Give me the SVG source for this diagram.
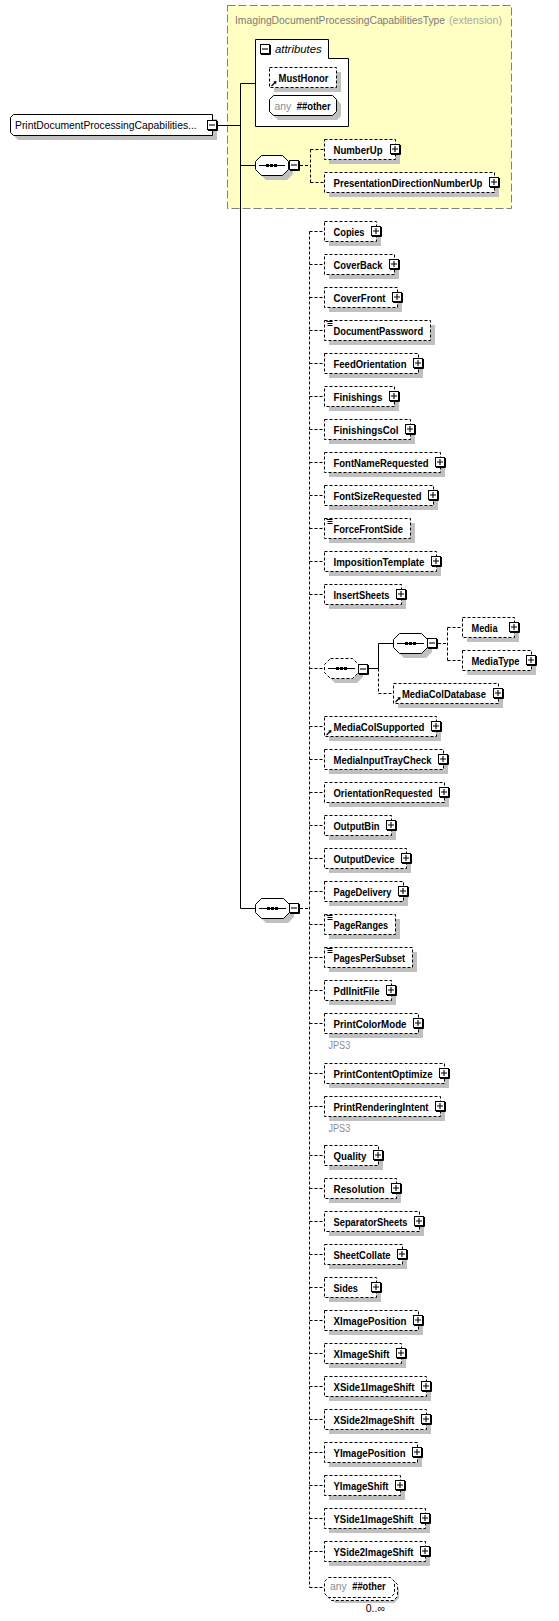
<svg xmlns="http://www.w3.org/2000/svg" xmlns:xlink="http://www.w3.org/1999/xlink" width="559" height="1621" viewBox="0 0 559 1621">
<style>
.sh{fill:#c0c0c0;stroke:none}
.el{fill:#fff;stroke:#000;stroke-width:1;stroke-dasharray:3,2}
.so{fill:#fff;stroke:#000;stroke-width:1}
.n{font-family:"Liberation Sans",Arial,sans-serif;font-size:10.5px;font-weight:bold;fill:#000}
.r{font-family:"Liberation Sans",Arial,sans-serif;font-size:10.5px;fill:#000}
.g{font-family:"Liberation Sans",Arial,sans-serif;font-size:10px;fill:#8c8c8c}
.c{fill:none;stroke:#000;stroke-width:1}
.d{fill:none;stroke:#000;stroke-width:1;stroke-dasharray:3,2}
</style>
<defs>
<g id="plus"><rect x="0.5" y="0.5" width="9" height="9" fill="#fff" stroke="#000"/><path d="M10.5,1 V10.5 H1" fill="none" stroke="#000"/><path d="M2,5 H8 M5,2 V8" fill="none" stroke="#000" stroke-width="1.1"/></g>
<g id="minus"><rect x="0.5" y="0.5" width="9" height="9" fill="#fff" stroke="#000"/><path d="M10.5,1 V10.5 H1" fill="none" stroke="#000"/><path d="M2,5 H8" fill="none" stroke="#000" stroke-width="1.1"/></g>
<g id="simple"><path d="M1.5,0 H7.5 M2.5,2 H7.5 M2.5,4 H7.5" fill="none" stroke="#000"/></g>
<g id="ref"><path d="M0,5 L3.5,1.5" fill="none" stroke="#000" stroke-width="1.2"/><polygon points="5,0 1.8,0.4 4.6,3.2" fill="#000"/></g>
</defs>

<g id="extension">
<rect x="227.5" y="5.5" width="284" height="203" fill="#ffffc4" stroke="#808080" stroke-dasharray="8,3"/>
<text class="g" x="235" y="24" font-size="10.5" fill="#808080" style="fill:#7a7a7a" textLength="210" lengthAdjust="spacingAndGlyphs">ImagingDocumentProcessingCapabilitiesType</text>
<text class="g" x="449" y="24" font-size="10.5" style="fill:#a8a8a8" textLength="53" lengthAdjust="spacingAndGlyphs">(extension)</text>
</g>

<g id="connectors">
<path class="c" d="M217,125.5 H240.5 M240.5,83.5 V908.5 M240.5,83.5 H255.5 M240.5,165.5 H255.5 M240.5,908.5 H255.5"/>
<path class="d" d="M300,165.5 H310.5 M310.5,149.5 V182.5 M310.5,149.5 H324.5 M310.5,182.5 H324.5"/>
<path class="d" d="M300,908.5 H309.5 M309.5,231.5 V1587.5 M309.5,231.5 H324.5 M309.5,264.5 H324.5 M309.5,297.5 H324.5 M309.5,330.5 H324.5 M309.5,363.5 H324.5 M309.5,396.5 H324.5 M309.5,429.5 H324.5 M309.5,462.5 H324.5 M309.5,495.5 H324.5 M309.5,528.5 H324.5 M309.5,561.5 H324.5 M309.5,594.5 H324.5 M309.5,668.5 H324.5 M309.5,726.5 H324.5 M309.5,759.5 H324.5 M309.5,792.5 H324.5 M309.5,825.5 H324.5 M309.5,858.5 H324.5 M309.5,891.5 H324.5 M309.5,924.5 H324.5 M309.5,957.5 H324.5 M309.5,990.5 H324.5 M309.5,1023.5 H324.5 M309.5,1073.5 H324.5 M309.5,1106.5 H324.5 M309.5,1155.5 H324.5 M309.5,1188.5 H324.5 M309.5,1221.5 H324.5 M309.5,1254.5 H324.5 M309.5,1287.5 H324.5 M309.5,1320.5 H324.5 M309.5,1353.5 H324.5 M309.5,1386.5 H324.5 M309.5,1419.5 H324.5 M309.5,1452.5 H324.5 M309.5,1485.5 H324.5 M309.5,1518.5 H324.5 M309.5,1551.5 H324.5 M309.5,1587.5 H324.5"/>
<path class="c" d="M369,668.5 H378.5 V643.5 H393.5"/>
<path class="d" d="M378.5,668.5 V693.5 H393.5"/>
<path class="d" d="M438,643.5 H447.5 M447.5,627.5 V660.5 M447.5,627.5 H462.5 M447.5,660.5 H462.5"/>
</g>

<g id="root">
<path class="sh" d="M18,119 H217 V140 H18 L15,137 V122 Z"/>
<path class="so" d="M13.5,114.5 H212.5 V135.5 H13.5 L10.5,132.5 V117.5 Z"/>
<text class="r" x="15" y="128.5" textLength="181.7" lengthAdjust="spacingAndGlyphs">PrintDocumentProcessingCapabilities...</text>
<use xlink:href="#minus" x="207" y="120"/>
</g>

<g id="attributes">
<path class="so" d="M255.5,39.5 H328.5 V58.5 H348.5 V126.5 H255.5 Z"/>
<use xlink:href="#minus" x="260" y="44"/>
<text class="r" x="275" y="52.5" font-style="italic" textLength="46.7" lengthAdjust="spacingAndGlyphs">attributes</text>
</g>

<g id="MustHonor">
<rect class="sh" x="274" y="72" width="67" height="20"/>
<rect class="el" x="269.5" y="67.5" width="67" height="20"/>
<use xlink:href="#ref" x="271.5" y="81"/>
<text class="n" x="278.5" y="82" textLength="50" lengthAdjust="spacingAndGlyphs">MustHonor</text>
</g>

<g id="attrAny">
<path class="sh" d="M278,100 H337 L341,104 V116 L337,120 H278 L274,116 V104 Z"/>
<path class="so" d="M273.5,95.5 H332.5 L336.5,99.5 V111.5 L332.5,115.5 H273.5 L269.5,111.5 V99.5 Z"/>
<text class="g" x="274.5" y="110" font-size="10.5" textLength="16.7" lengthAdjust="spacingAndGlyphs">any</text>
<text class="n" x="296.7" y="110" textLength="34" lengthAdjust="spacingAndGlyphs">##other</text>
</g>

<g id="seqTop">
<path class="sh" d="M266,160 H287 L293,166 V174 L287,180 H266 L260,174 V166 Z"/>
<path class="so" stroke-linejoin="round" d="M261.5,155.5 H282.5 L288.5,161.5 V169.5 L282.5,175.5 H261.5 L255.5,169.5 V161.5 Z"/>
<path class="c" d="M259,165.5 H285"/>
<rect x="266" y="164" width="3" height="3"/><rect x="270" y="164" width="3" height="3"/><rect x="274" y="164" width="3" height="3"/>
<use xlink:href="#minus" x="289" y="160"/>
</g>

<g id="NumberUp">
<rect class="sh" x="329" y="144" width="71" height="20"/>
<rect class="el" x="324.5" y="139.5" width="71" height="20"/>
<text class="n" x="333.5" y="154" textLength="49" lengthAdjust="spacingAndGlyphs">NumberUp</text>
<use xlink:href="#plus" x="390" y="144"/>
</g>

<g id="PresentationDirectionNumberUp">
<rect class="sh" x="329" y="177" width="170" height="20"/>
<rect class="el" x="324.5" y="172.5" width="170" height="20"/>
<text class="n" x="333.5" y="187" textLength="149" lengthAdjust="spacingAndGlyphs">PresentationDirectionNumberUp</text>
<use xlink:href="#plus" x="489" y="177"/>
</g>

<g id="seqMain">
<path class="sh" d="M266,903 H288 L294,909 V917 L288,923 H266 L260,917 V909 Z"/>
<path class="so" stroke-linejoin="round" d="M261.5,898.5 H283.5 L289.5,904.5 V912.5 L283.5,918.5 H261.5 L255.5,912.5 V904.5 Z"/>
<path class="c" d="M259,908.5 H286"/>
<rect x="267" y="907" width="3" height="3"/><rect x="271" y="907" width="3" height="3"/><rect x="275" y="907" width="3" height="3"/>
<use xlink:href="#minus" x="289" y="903"/>
</g>

<g id="Copies"><rect class="sh" x="329" y="226" width="52" height="20"/><rect class="el" x="324.5" y="221.5" width="52" height="20"/><text class="n" x="333.5" y="236" textLength="31" lengthAdjust="spacingAndGlyphs">Copies</text><use xlink:href="#plus" x="371" y="226"/></g>
<g id="CoverBack"><rect class="sh" x="329" y="259" width="70" height="20"/><rect class="el" x="324.5" y="254.5" width="70" height="20"/><text class="n" x="333.5" y="269" textLength="49" lengthAdjust="spacingAndGlyphs">CoverBack</text><use xlink:href="#plus" x="389" y="259"/></g>
<g id="CoverFront"><rect class="sh" x="329" y="292" width="73" height="20"/><rect class="el" x="324.5" y="287.5" width="73" height="20"/><text class="n" x="333.5" y="302" textLength="52" lengthAdjust="spacingAndGlyphs">CoverFront</text><use xlink:href="#plus" x="392" y="292"/></g>
<g id="DocumentPassword"><rect class="sh" x="329" y="325" width="106" height="20"/><rect class="el" x="324.5" y="320.5" width="106" height="20"/><use xlink:href="#simple" x="325" y="321.5"/><text class="n" x="333.5" y="335" textLength="89.6" lengthAdjust="spacingAndGlyphs">DocumentPassword</text></g>
<g id="FeedOrientation"><rect class="sh" x="329" y="358" width="94" height="20"/><rect class="el" x="324.5" y="353.5" width="94" height="20"/><text class="n" x="333.5" y="368" textLength="73" lengthAdjust="spacingAndGlyphs">FeedOrientation</text><use xlink:href="#plus" x="413" y="358"/></g>
<g id="Finishings"><rect class="sh" x="329" y="391" width="70" height="20"/><rect class="el" x="324.5" y="386.5" width="70" height="20"/><text class="n" x="333.5" y="401" textLength="49" lengthAdjust="spacingAndGlyphs">Finishings</text><use xlink:href="#plus" x="389" y="391"/></g>
<g id="FinishingsCol"><rect class="sh" x="329" y="424" width="86" height="20"/><rect class="el" x="324.5" y="419.5" width="86" height="20"/><text class="n" x="333.5" y="434" textLength="65" lengthAdjust="spacingAndGlyphs">FinishingsCol</text><use xlink:href="#plus" x="405" y="424"/></g>
<g id="FontNameRequested"><rect class="sh" x="329" y="457" width="116" height="20"/><rect class="el" x="324.5" y="452.5" width="116" height="20"/><text class="n" x="333.5" y="467" textLength="95" lengthAdjust="spacingAndGlyphs">FontNameRequested</text><use xlink:href="#plus" x="435" y="457"/></g>
<g id="FontSizeRequested"><rect class="sh" x="329" y="490" width="109" height="20"/><rect class="el" x="324.5" y="485.5" width="109" height="20"/><text class="n" x="333.5" y="500" textLength="88" lengthAdjust="spacingAndGlyphs">FontSizeRequested</text><use xlink:href="#plus" x="428" y="490"/></g>
<g id="ForceFrontSide"><rect class="sh" x="329" y="523" width="86" height="20"/><rect class="el" x="324.5" y="518.5" width="86" height="20"/><use xlink:href="#simple" x="325" y="519.5"/><text class="n" x="333.5" y="533" textLength="69.6" lengthAdjust="spacingAndGlyphs">ForceFrontSide</text></g>
<g id="ImpositionTemplate"><rect class="sh" x="329" y="556" width="112" height="20"/><rect class="el" x="324.5" y="551.5" width="112" height="20"/><text class="n" x="333.5" y="566" textLength="91" lengthAdjust="spacingAndGlyphs">ImpositionTemplate</text><use xlink:href="#plus" x="431" y="556"/></g>
<g id="InsertSheets"><rect class="sh" x="329" y="589" width="77" height="20"/><rect class="el" x="324.5" y="584.5" width="77" height="20"/><text class="n" x="333.5" y="599" textLength="56" lengthAdjust="spacingAndGlyphs">InsertSheets</text><use xlink:href="#plus" x="396" y="589"/></g>

<g id="seqMediaOuter">
<path class="sh" d="M335,663 H357 L363,669 V677 L357,683 H335 L329,677 V669 Z"/>
<path class="el" stroke-linejoin="round" d="M330.5,658.5 H352.5 L358.5,664.5 V672.5 L352.5,678.5 H330.5 L324.5,672.5 V664.5 Z"/>
<path class="c" d="M328,668.5 H355"/>
<rect x="336" y="667" width="3" height="3"/><rect x="340" y="667" width="3" height="3"/><rect x="344" y="667" width="3" height="3"/>
<use xlink:href="#minus" x="358" y="664"/>
</g>
<g id="seqMediaInner">
<path class="sh" d="M404,638 H426 L432,644 V652 L426,658 H404 L398,652 V644 Z"/>
<path class="so" stroke-linejoin="round" d="M399.5,633.5 H421.5 L427.5,639.5 V647.5 L421.5,653.5 H399.5 L393.5,647.5 V639.5 Z"/>
<path class="c" d="M397,643.5 H424"/>
<rect x="405" y="642" width="3" height="3"/><rect x="409" y="642" width="3" height="3"/><rect x="413" y="642" width="3" height="3"/>
<use xlink:href="#minus" x="427" y="638"/>
</g>
<g id="Media"><rect class="sh" x="467" y="622" width="52" height="20"/><rect class="el" x="462.5" y="617.5" width="52" height="20"/><text class="n" x="471.5" y="632" textLength="26" lengthAdjust="spacingAndGlyphs">Media</text><use xlink:href="#plus" x="509" y="622"/></g>
<g id="MediaType"><rect class="sh" x="467" y="655" width="69" height="20"/><rect class="el" x="462.5" y="650.5" width="69" height="20"/><text class="n" x="471.5" y="665" textLength="48" lengthAdjust="spacingAndGlyphs">MediaType</text><use xlink:href="#plus" x="526" y="655"/></g>
<g id="MediaColDatabase"><rect class="sh" x="398" y="688" width="105" height="20"/><rect class="el" x="393.5" y="683.5" width="105" height="20"/><use xlink:href="#ref" x="395.5" y="697"/><text class="n" x="402" y="698" textLength="84" lengthAdjust="spacingAndGlyphs">MediaColDatabase</text><use xlink:href="#plus" x="493" y="688"/></g>

<g id="MediaColSupported"><rect class="sh" x="329" y="721" width="112" height="20"/><rect class="el" x="324.5" y="716.5" width="112" height="20"/><use xlink:href="#ref" x="326.5" y="730"/><text class="n" x="333.5" y="731" textLength="91" lengthAdjust="spacingAndGlyphs">MediaColSupported</text><use xlink:href="#plus" x="431" y="721"/></g>
<g id="MediaInputTrayCheck"><rect class="sh" x="329" y="754" width="119" height="20"/><rect class="el" x="324.5" y="749.5" width="119" height="20"/><text class="n" x="333.5" y="764" textLength="98" lengthAdjust="spacingAndGlyphs">MediaInputTrayCheck</text><use xlink:href="#plus" x="438" y="754"/></g>
<g id="OrientationRequested"><rect class="sh" x="329" y="787" width="120" height="20"/><rect class="el" x="324.5" y="782.5" width="120" height="20"/><text class="n" x="333.5" y="797" textLength="99" lengthAdjust="spacingAndGlyphs">OrientationRequested</text><use xlink:href="#plus" x="439" y="787"/></g>
<g id="OutputBin"><rect class="sh" x="329" y="820" width="67" height="20"/><rect class="el" x="324.5" y="815.5" width="67" height="20"/><text class="n" x="333.5" y="830" textLength="46" lengthAdjust="spacingAndGlyphs">OutputBin</text><use xlink:href="#plus" x="386" y="820"/></g>
<g id="OutputDevice"><rect class="sh" x="329" y="853" width="82" height="20"/><rect class="el" x="324.5" y="848.5" width="82" height="20"/><text class="n" x="333.5" y="863" textLength="61" lengthAdjust="spacingAndGlyphs">OutputDevice</text><use xlink:href="#plus" x="401" y="853"/></g>
<g id="PageDelivery"><rect class="sh" x="329" y="886" width="79" height="20"/><rect class="el" x="324.5" y="881.5" width="79" height="20"/><text class="n" x="333.5" y="896" textLength="58" lengthAdjust="spacingAndGlyphs">PageDelivery</text><use xlink:href="#plus" x="398" y="886"/></g>
<g id="PageRanges"><rect class="sh" x="329" y="919" width="71" height="20"/><rect class="el" x="324.5" y="914.5" width="71" height="20"/><use xlink:href="#simple" x="325" y="915.5"/><text class="n" x="333.5" y="929" textLength="54.6" lengthAdjust="spacingAndGlyphs">PageRanges</text></g>
<g id="PagesPerSubset"><rect class="sh" x="329" y="952" width="88" height="20"/><rect class="el" x="324.5" y="947.5" width="88" height="20"/><use xlink:href="#simple" x="325" y="948.5"/><text class="n" x="333.5" y="962" textLength="71.6" lengthAdjust="spacingAndGlyphs">PagesPerSubset</text></g>
<g id="PdlInitFile"><rect class="sh" x="329" y="985" width="67" height="20"/><rect class="el" x="324.5" y="980.5" width="67" height="20"/><text class="n" x="333.5" y="995" textLength="46" lengthAdjust="spacingAndGlyphs">PdlInitFile</text><use xlink:href="#plus" x="386" y="985"/></g>
<g id="PrintColorMode"><rect class="sh" x="329" y="1018" width="94" height="20"/><rect class="el" x="324.5" y="1013.5" width="94" height="20"/><text class="n" x="333.5" y="1028" textLength="73" lengthAdjust="spacingAndGlyphs">PrintColorMode</text><use xlink:href="#plus" x="413" y="1018"/><text class="g" x="328.5" y="1048.5" font-size="9" textLength="21.7" lengthAdjust="spacingAndGlyphs">JPS3</text></g>
<g id="PrintContentOptimize"><rect class="sh" x="329" y="1068" width="120" height="20"/><rect class="el" x="324.5" y="1063.5" width="120" height="20"/><text class="n" x="333.5" y="1078" textLength="99" lengthAdjust="spacingAndGlyphs">PrintContentOptimize</text><use xlink:href="#plus" x="439" y="1068"/></g>
<g id="PrintRenderingIntent"><rect class="sh" x="329" y="1101" width="116" height="20"/><rect class="el" x="324.5" y="1096.5" width="116" height="20"/><text class="n" x="333.5" y="1111" textLength="95" lengthAdjust="spacingAndGlyphs">PrintRenderingIntent</text><use xlink:href="#plus" x="435" y="1101"/><text class="g" x="328.5" y="1131.5" font-size="9" textLength="21.7" lengthAdjust="spacingAndGlyphs">JPS3</text></g>
<g id="Quality"><rect class="sh" x="329" y="1150" width="54" height="20"/><rect class="el" x="324.5" y="1145.5" width="54" height="20"/><text class="n" x="333.5" y="1160" textLength="33" lengthAdjust="spacingAndGlyphs">Quality</text><use xlink:href="#plus" x="373" y="1150"/></g>
<g id="Resolution"><rect class="sh" x="329" y="1183" width="72" height="20"/><rect class="el" x="324.5" y="1178.5" width="72" height="20"/><text class="n" x="333.5" y="1193" textLength="51" lengthAdjust="spacingAndGlyphs">Resolution</text><use xlink:href="#plus" x="391" y="1183"/></g>
<g id="SeparatorSheets"><rect class="sh" x="329" y="1216" width="95" height="20"/><rect class="el" x="324.5" y="1211.5" width="95" height="20"/><text class="n" x="333.5" y="1226" textLength="74" lengthAdjust="spacingAndGlyphs">SeparatorSheets</text><use xlink:href="#plus" x="414" y="1216"/></g>
<g id="SheetCollate"><rect class="sh" x="329" y="1249" width="78" height="20"/><rect class="el" x="324.5" y="1244.5" width="78" height="20"/><text class="n" x="333.5" y="1259" textLength="57" lengthAdjust="spacingAndGlyphs">SheetCollate</text><use xlink:href="#plus" x="397" y="1249"/></g>
<g id="Sides"><rect class="sh" x="329" y="1282" width="52" height="20"/><rect class="el" x="324.5" y="1277.5" width="52" height="20"/><text class="n" x="333.5" y="1292" textLength="24.4" lengthAdjust="spacingAndGlyphs">Sides</text><use xlink:href="#plus" x="371" y="1282"/></g>
<g id="XImagePosition"><rect class="sh" x="329" y="1315" width="94" height="20"/><rect class="el" x="324.5" y="1310.5" width="94" height="20"/><text class="n" x="333.5" y="1325" textLength="73" lengthAdjust="spacingAndGlyphs">XImagePosition</text><use xlink:href="#plus" x="413" y="1315"/></g>
<g id="XImageShift"><rect class="sh" x="329" y="1348" width="77" height="20"/><rect class="el" x="324.5" y="1343.5" width="77" height="20"/><text class="n" x="333.5" y="1358" textLength="56" lengthAdjust="spacingAndGlyphs">XImageShift</text><use xlink:href="#plus" x="396" y="1348"/></g>
<g id="XSide1ImageShift"><rect class="sh" x="329" y="1381" width="102" height="20"/><rect class="el" x="324.5" y="1376.5" width="102" height="20"/><text class="n" x="333.5" y="1391" textLength="81" lengthAdjust="spacingAndGlyphs">XSide1ImageShift</text><use xlink:href="#plus" x="421" y="1381"/></g>
<g id="XSide2ImageShift"><rect class="sh" x="329" y="1414" width="102" height="20"/><rect class="el" x="324.5" y="1409.5" width="102" height="20"/><text class="n" x="333.5" y="1424" textLength="81" lengthAdjust="spacingAndGlyphs">XSide2ImageShift</text><use xlink:href="#plus" x="421" y="1414"/></g>
<g id="YImagePosition"><rect class="sh" x="329" y="1447" width="93" height="20"/><rect class="el" x="324.5" y="1442.5" width="93" height="20"/><text class="n" x="333.5" y="1457" textLength="72" lengthAdjust="spacingAndGlyphs">YImagePosition</text><use xlink:href="#plus" x="412" y="1447"/></g>
<g id="YImageShift"><rect class="sh" x="329" y="1480" width="76" height="20"/><rect class="el" x="324.5" y="1475.5" width="76" height="20"/><text class="n" x="333.5" y="1490" textLength="55" lengthAdjust="spacingAndGlyphs">YImageShift</text><use xlink:href="#plus" x="395" y="1480"/></g>
<g id="YSide1ImageShift"><rect class="sh" x="329" y="1513" width="101" height="20"/><rect class="el" x="324.5" y="1508.5" width="101" height="20"/><text class="n" x="333.5" y="1523" textLength="80" lengthAdjust="spacingAndGlyphs">YSide1ImageShift</text><use xlink:href="#plus" x="420" y="1513"/></g>
<g id="YSide2ImageShift"><rect class="sh" x="329" y="1546" width="101" height="20"/><rect class="el" x="324.5" y="1541.5" width="101" height="20"/><text class="n" x="333.5" y="1556" textLength="80" lengthAdjust="spacingAndGlyphs">YSide2ImageShift</text><use xlink:href="#plus" x="420" y="1546"/></g>

<g id="anyOther">
<path class="sh" d="M335,1584 H394 L399,1589 V1598 L394,1603 H335 L330,1598 V1589 Z"/>
<path class="el" d="M331.5,1580.5 H393.5 L397.5,1584.5 V1596.5 L393.5,1600.5 H331.5 L327.5,1596.5 V1584.5 Z"/>
<path class="el" d="M328.5,1577.5 H390.5 L394.5,1581.5 V1593.5 L390.5,1597.5 H328.5 L324.5,1593.5 V1581.5 Z"/>
<text class="g" x="330" y="1590" font-size="10.5" textLength="16.7" lengthAdjust="spacingAndGlyphs">any</text>
<text class="n" x="352.3" y="1590" textLength="33.3" lengthAdjust="spacingAndGlyphs">##other</text>
<text class="r" x="365.7" y="1612" font-size="10" textLength="19.3" lengthAdjust="spacingAndGlyphs">0..∞</text>
</g>
</svg>
